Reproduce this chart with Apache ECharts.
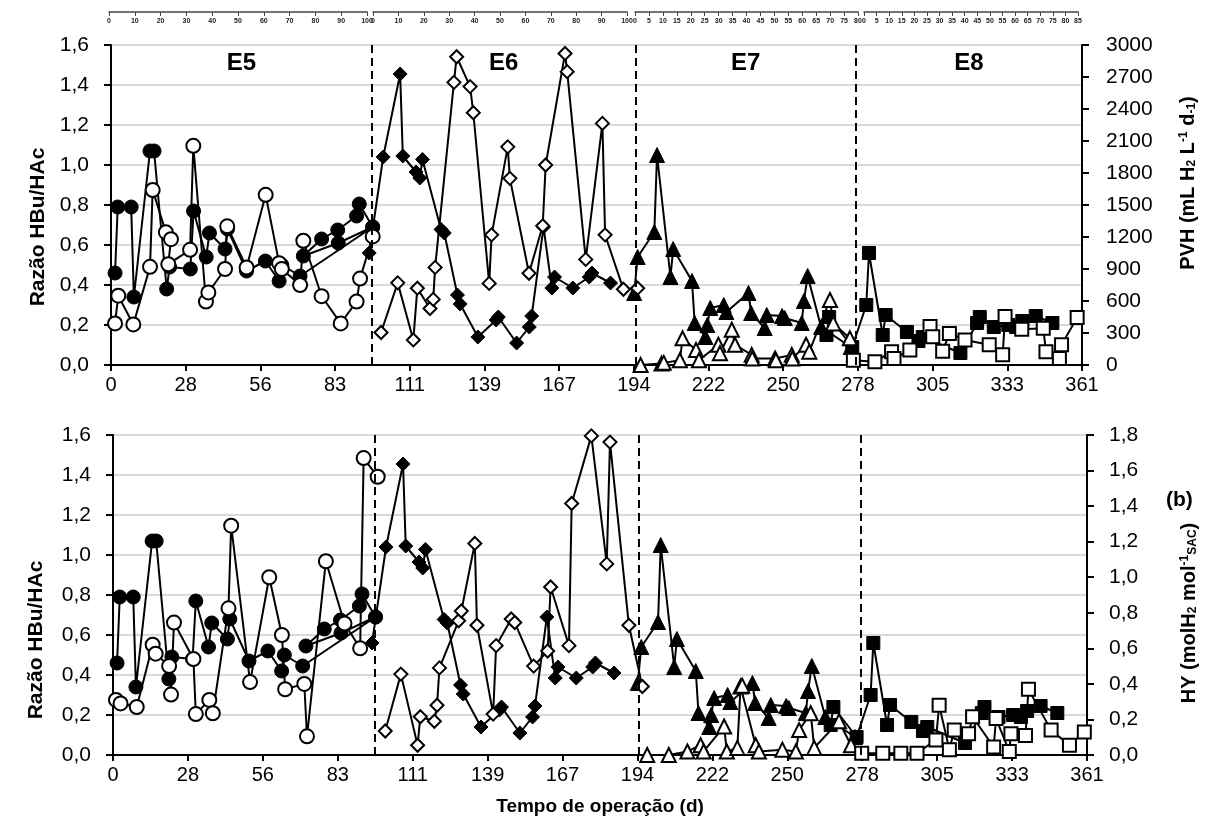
<!DOCTYPE html>
<html>
<head>
<meta charset="utf-8">
<script src="https://cdn.jsdelivr.net/npm/echarts@6/dist/echarts.min.js"></script>
<style>
  html, body { margin: 0; padding: 0; background: #fff; }
  #chart { width: 1215px; height: 831px; }
</style>
</head>
<body>
<div id="chart"></div>
<script>
// fases do reator: limites em dias de operação
const phaseBounds = [0, 97, 195, 277, 361]
const phaseNames = ['E5', 'E6', 'E7', 'E8']
const phaseDays = [100, 100, 80, 85]
const phaseSteps = [10, 10, 5, 5]

// razão HBu/HAc (mesma nos dois painéis) - [dia, valor]
const e5Ratio = [[1.5, 0.46], [2.5, 0.79], [7.5, 0.79], [8.5, 0.34], [14.5, 1.07], [16, 1.07], [20.7, 0.38], [21.8, 0.49],
  [29.5, 0.48], [30.7, 0.77], [35.4, 0.54], [36.6, 0.66], [42.4, 0.58], [43.3, 0.68], [50.4, 0.47], [57.4, 0.52],
  [62.5, 0.42], [63.5, 0.50], [70.3, 0.445], [97.3, 0.69], [84.5, 0.61], [71.5, 0.545], [78.3, 0.63], [84.3, 0.675],
  [91.3, 0.745], [92.3, 0.805], [97.3, 0.69]]
const e6Ratio = [[96, 0.56], [101.2, 1.04], [107.5, 1.455], [108.5, 1.045], [113.4, 0.965], [114.8, 0.935], [115.8, 1.028],
  [122.7, 0.678], [123.9, 0.66], [128.8, 0.35], [129.8, 0.305], [136.4, 0.14], [143.2, 0.225], [144, 0.24], [150.8, 0.11],
  [155.5, 0.19], [156.4, 0.245], [160.8, 0.69], [163.9, 0.385], [164.9, 0.44], [171.7, 0.385], [177.8, 0.44],
  [178.8, 0.46], [185.7, 0.41]]
const e7Ratio = [[194.5, 0.36], [195.8, 0.54], [202, 0.665], [203, 1.05], [208, 0.44], [209, 0.58], [216, 0.42], [217, 0.21],
  [221, 0.14], [221.7, 0.2], [222.8, 0.285], [227.8, 0.3], [228.8, 0.265], [237, 0.36], [238, 0.26], [243, 0.185],
  [243.8, 0.25], [249.5, 0.245], [250.5, 0.235], [256.8, 0.21], [257.6, 0.32], [259, 0.445], [264, 0.19], [275, 0.09]]
const e8Ratio = [[266, 0.15], [267, 0.24], [275.6, 0.09], [280.8, 0.30], [281.8, 0.56], [286.9, 0.15], [288, 0.25],
  [295.9, 0.165], [300.2, 0.12], [301.8, 0.14], [315.8, 0.06], [322, 0.21], [323, 0.24], [328.2, 0.19], [333.6, 0.20],
  [336.5, 0.19], [338.8, 0.22], [343.8, 0.245], [350, 0.21]]

// PVH (mL H2 L-1 d-1)
const e5Pvh = [[1.5, 390], [2.7, 650], [8.3, 380], [14.5, 920], [15.5, 1640], [20.4, 1245], [22.3, 1180], [21.3, 945],
  [29.4, 1080], [30.6, 2055], [35.3, 595], [36.2, 680], [42.4, 900], [43.2, 1300], [50.4, 915], [57.5, 1595],
  [62.5, 955], [63.5, 900], [70.3, 750], [71.5, 1165], [78.3, 645], [85.4, 390], [91.3, 595], [92.6, 810], [97.3, 1205]]
const e6Pvh = [[100.4, 305], [106.6, 770], [112.4, 235], [113.9, 720], [118.6, 530], [119.8, 615], [120.5, 915],
  [127.5, 2650], [128.5, 2890], [133.5, 2610], [134.7, 2365], [140.6, 765], [141.5, 1220], [147.5, 2045], [148.3, 1750],
  [155.4, 860], [160.5, 1305], [161.6, 1875], [168.8, 2920], [169.6, 2750], [176.5, 990], [182.7, 2265], [183.7, 1220],
  [190.5, 710], [195.8, 720]]
const e7Pvh = [[196.9, 0], [204.7, 15], [205.5, 20], [211.5, 45], [212.5, 250], [217.5, 140], [218.6, 45], [225.8, 190],
  [226.4, 110], [230.8, 330], [232, 190], [238.2, 95], [238.4, 60], [246.9, 60], [247.2, 45], [253.1, 95], [253.3, 60],
  [258.4, 190], [259.6, 125], [267.3, 610], [268.5, 390], [274.7, 250]]
const e8Pvh = [[276, 45], [284, 30], [290.2, 125], [291.1, 60], [297, 140], [304.5, 360], [305.5, 265], [309.2, 130],
  [311.7, 295], [317.5, 235], [326.5, 190], [331.5, 95], [332.4, 455], [338.6, 335], [346.6, 345], [347.6, 125],
  [352.6, 60], [353.4, 190], [359.2, 445]]

// HY (molH2 mol-1 SAC)
const e5Hy = [[1.1, 0.31], [2.8, 0.29], [8.8, 0.27], [14.7, 0.62], [15.8, 0.57], [20.8, 0.50], [21.5, 0.34], [22.6, 0.745],
  [29.8, 0.54], [30.7, 0.23], [35.7, 0.31], [37, 0.235], [42.8, 0.825], [43.8, 1.29], [50.8, 0.41], [57.9, 1.0],
  [62.6, 0.675], [63.8, 0.37], [70.9, 0.40], [71.9, 0.105], [78.9, 1.09], [85.8, 0.74], [91.6, 0.60], [92.9, 1.67],
  [98.1, 1.565]]
const e6Hy = [[100.9, 0.135], [106.7, 0.455], [112.9, 0.055], [113.9, 0.215], [119.1, 0.19], [120.1, 0.28], [121, 0.49],
  [128.1, 0.755], [129.1, 0.81], [134.1, 1.19], [134.9, 0.73], [140.9, 0.23], [142, 0.615], [147.6, 0.765], [148.9, 0.745],
  [155.9, 0.50], [161.1, 0.585], [162.2, 0.945], [169, 0.615], [170, 1.415], [177.3, 1.795], [183, 1.075], [184.2, 1.76],
  [191.2, 0.73], [196.2, 0.385]]
const e7Hy = [[198, 0], [206, 0], [212.9, 0.02], [217.8, 0.055], [218.9, 0.02], [226.5, 0.16], [227.5, 0.02], [231.4, 0.04],
  [232.6, 0.385], [233.2, 0.39], [238.2, 0.055], [239.4, 0.02], [248.1, 0.03], [253.1, 0.02], [254.3, 0.14],
  [258.6, 0.235], [259.9, 0.04], [269.1, 0.19], [273.5, 0.055]]
const e8Hy = [[277.5, 0.01], [285.3, 0.01], [292, 0.01], [298, 0.01], [305, 0.085], [306.2, 0.28], [310, 0.03],
  [311.8, 0.14], [317.1, 0.12], [318.6, 0.215], [326.4, 0.045], [327.3, 0.205], [332.2, 0.02], [332.8, 0.12],
  [338.2, 0.11], [339.3, 0.37], [347.7, 0.14], [354.5, 0.055], [360, 0.13]]

const FONT = '"Liberation Sans", Arial, sans-serif'
const fmt1 = v => v.toFixed(1).replace('.', ',')

function serie(name, data, xi, yi, symbol, size, filled) {
  return {
    name: name,
    type: 'line',
    xAxisIndex: xi,
    yAxisIndex: yi,
    data: data,
    symbol: symbol,
    symbolSize: size,
    showAllSymbol: true,
    lineStyle: { color: '#000', width: 2 },
    itemStyle: {
      color: filled ? '#000' : '#fff',
      borderColor: '#000',
      borderWidth: filled ? 1 : 2
    },
    z: filled ? 3 : 4
  }
}

function mainX(gi, withName) {
  const ax = {
    type: 'value', gridIndex: gi, min: 0, max: 361, interval: 361 / 13,
    axisLine: { onZero: false, lineStyle: { color: '#000', width: 2 } },
    axisTick: { length: 6, lineStyle: { color: '#000', width: 2 } },
    axisLabel: { color: '#000', fontSize: 20, fontFamily: FONT, margin: 10, formatter: v => Math.round(v) },
    splitLine: { show: false }
  }
  if (withName) {
    ax.name = 'Tempo de operação (d)'
    ax.nameLocation = 'middle'
    ax.nameGap = 42
    ax.nameTextStyle = { color: '#000', fontSize: 19, fontWeight: 'bold', fontFamily: FONT }
  }
  return ax
}

function leftY(gi, gap, shift) {
  return {
    type: 'value', gridIndex: gi, position: 'left', min: 0, max: 1.6, interval: 0.2,
    name: 'Razão HBu/HAc', nameLocation: 'middle', nameRotate: 90, nameGap: gap,
    nameTextStyle: { color: '#000', fontSize: 21, fontWeight: 'bold', fontFamily: FONT, padding: [0, shift, 0, 0] },
    axisLine: { show: true, lineStyle: { color: '#000', width: 2 } },
    axisTick: { show: true, length: 7, lineStyle: { color: '#000', width: 2 } },
    axisLabel: { color: '#000', fontSize: 21, fontFamily: FONT, margin: 22, formatter: fmt1 },
    splitLine: { show: true, lineStyle: { color: '#d9d9d9', width: 2 } }
  }
}

const subRich = {
  sub: { fontSize: 12, fontWeight: 'bold', fontFamily: FONT, color: '#000', verticalAlign: 'bottom', padding: [8, 0, 0, 0] },
  sup: { fontSize: 12, fontWeight: 'bold', fontFamily: FONT, color: '#000', verticalAlign: 'top', padding: [0, 0, 8, 0] }
}

const rightTick = { show: true, length: 7, lineStyle: { color: '#000', width: 2 } }
const rightLine = { show: true, lineStyle: { color: '#000', width: 2 } }

const option = {
  animation: false,
  backgroundColor: '#fff',
  textStyle: { fontFamily: FONT },
  grid: [
    { left: 111, top: 45, width: 971, height: 320, show: true, borderColor: '#000', borderWidth: 2 },
    { left: 113, top: 435, width: 974, height: 320, show: true, borderColor: '#000', borderWidth: 2 },
    { left: 109, top: 11, width: 258, height: 1 },
    { left: 373, top: 11, width: 254, height: 1 },
    { left: 635, top: 11, width: 223, height: 1 },
    { left: 864, top: 11, width: 214, height: 1 }
  ],
  xAxis: [mainX(0, false), mainX(1, true)].concat(phaseDays.map((d, i) => ({
    type: 'value', gridIndex: 2 + i, min: 0, max: d, interval: phaseSteps[i],
    axisLine: { onZero: false, lineStyle: { color: '#444', width: 1.5 } },
    axisTick: { length: 4, lineStyle: { color: '#444', width: 1 } },
    axisLabel: { color: '#222', fontSize: 7, fontWeight: 'bold', fontFamily: FONT, margin: 6, showMinLabel: true, showMaxLabel: true },
    splitLine: { show: false }
  }))),
  yAxis: [
    leftY(0, 60, 44),
    {
      type: 'value', gridIndex: 0, position: 'right', min: 0, max: 3000, interval: 300,
      name: 'PVH (mL H{sub|2} L{sup|-1} d{sub|-1})', nameLocation: 'middle', nameRotate: 90, nameGap: 96,
      nameTextStyle: { color: '#000', fontSize: 20, fontWeight: 'bold', fontFamily: FONT, padding: [0, 0, 0, 44], rich: subRich },
      axisLine: rightLine, axisTick: rightTick,
      axisLabel: { color: '#000', fontSize: 21, fontFamily: FONT, margin: 24, formatter: v => String(v) },
      splitLine: { show: false }
    },
    leftY(1, 66, 90),
    {
      type: 'value', gridIndex: 1, position: 'right', min: 0, max: 1.8, interval: 0.2,
      name: 'HY (molH{sub|2} mol{sup|-1}{sub|SAC})', nameLocation: 'middle', nameRotate: 90, nameGap: 92,
      nameTextStyle: { color: '#000', fontSize: 20, fontWeight: 'bold', fontFamily: FONT, padding: [0, 36, 0, 0], rich: subRich },
      axisLine: rightLine, axisTick: rightTick,
      axisLabel: { color: '#000', fontSize: 21, fontFamily: FONT, margin: 22, formatter: fmt1 },
      splitLine: { show: false }
    }
  ].concat(phaseDays.map((d, i) => ({ type: 'value', gridIndex: 2 + i, show: false, min: 0, max: 1 }))),
  graphic: [
    { type: 'text', left: 1166, top: 490, style: { text: '(b)', fontSize: 21, fontWeight: 'bold', fontFamily: FONT, fill: '#000' } }
  ],
  series: [
    // painel superior
    serie('E5 razão', e5Ratio, 0, 0, 'circle', 14, true),
    serie('E6 razão', e6Ratio, 0, 0, 'diamond', 14, true),
    serie('E7 razão', e7Ratio, 0, 0, 'triangle', 15, true),
    serie('E8 razão', e8Ratio, 0, 0, 'rect', 13, true),
    serie('E5 PVH', e5Pvh, 0, 1, 'circle', 14, false),
    serie('E6 PVH', e6Pvh, 0, 1, 'diamond', 13, false),
    serie('E7 PVH', e7Pvh, 0, 1, 'triangle', 14, false),
    serie('E8 PVH', e8Pvh, 0, 1, 'rect', 13, false),
    {
      type: 'scatter', xAxisIndex: 0, yAxisIndex: 0, symbolSize: 0, silent: true,
      itemStyle: { opacity: 1 },
      data: phaseNames.map((n, i) => ({ name: n, value: [(phaseBounds[i] + phaseBounds[i + 1]) / 2, 1.51] })),
      label: { show: true, position: 'inside', formatter: '{b}', color: '#000', opacity: 1, fontSize: 24, fontWeight: 'bold', fontFamily: FONT },
      markLine: {
        silent: true, symbol: 'none', label: { show: false },
        lineStyle: { color: '#000', type: [8, 5], width: 2, opacity: 1 },
        data: phaseBounds.slice(1, 4).map(b => ({ xAxis: b }))
      }
    },
    // painel inferior
    serie('E5 razão', e5Ratio, 1, 2, 'circle', 14, true),
    serie('E6 razão', e6Ratio, 1, 2, 'diamond', 14, true),
    serie('E7 razão', e7Ratio, 1, 2, 'triangle', 15, true),
    serie('E8 razão', e8Ratio, 1, 2, 'rect', 13, true),
    serie('E5 HY', e5Hy, 1, 3, 'circle', 14, false),
    serie('E6 HY', e6Hy, 1, 3, 'diamond', 13, false),
    serie('E7 HY', e7Hy, 1, 3, 'triangle', 14, false),
    serie('E8 HY', e8Hy, 1, 3, 'rect', 13, false),
    {
      type: 'scatter', xAxisIndex: 1, yAxisIndex: 2, symbolSize: 0, silent: true, data: [],
      markLine: {
        silent: true, symbol: 'none', label: { show: false },
        lineStyle: { color: '#000', type: [8, 5], width: 2, opacity: 1 },
        data: phaseBounds.slice(1, 4).map(b => ({ xAxis: b }))
      }
    }
  ].concat(phaseDays.map((d, i) => ({ type: 'scatter', xAxisIndex: 2 + i, yAxisIndex: 2 + 2 + i, data: [] })))
}

const chart = echarts.init(document.getElementById('chart'))
chart.setOption(option)
</script>
</body>
</html>
